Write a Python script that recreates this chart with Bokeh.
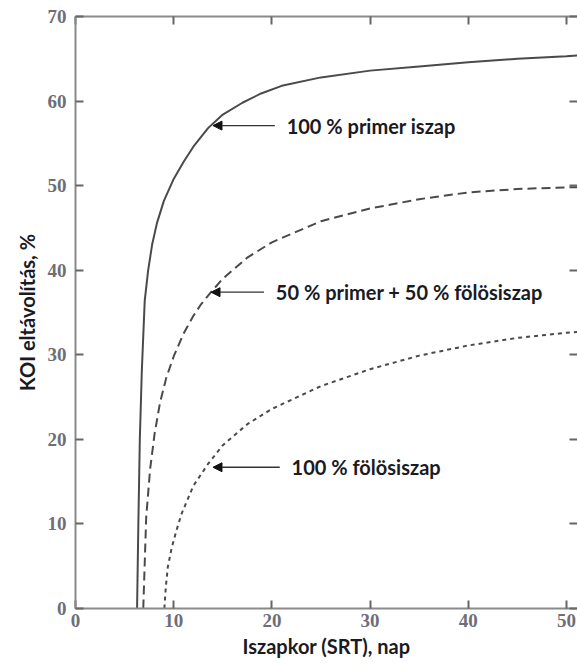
from bokeh.plotting import figure
from bokeh.models import LinearAxis, FixedTicker, Arrow, NormalHead, Label, Range1d
from bokeh.embed import file_html
from bokeh.resources import INLINE

# Data
srt_primer = [6.27, 6.4, 6.55, 6.75, 7.05, 7.4, 7.8, 8.3, 9.0, 10, 11, 12, 13.5, 15, 17, 18.9, 21, 25, 30, 35, 40, 45, 50, 51.2]
koi_primer = [0, 10, 20, 28, 36.4, 40, 43, 45.6, 48.2, 50.8, 52.8, 54.6, 56.8, 58.4, 59.8, 60.9, 61.8, 62.8, 63.6, 64.1, 64.6, 65.0, 65.3, 65.4]

srt_mix = [6.9, 7.2, 7.6, 8.06, 8.6, 9.25, 10, 11, 12, 12.8, 13.8, 15, 17.5, 20, 25, 30, 35, 40, 45, 50, 51.2]
koi_mix = [0, 10.8, 16.5, 20.7, 24.3, 27.3, 29.8, 32.5, 34.6, 36.0, 37.4, 39.0, 41.5, 43.3, 45.8, 47.3, 48.4, 49.2, 49.6, 49.8, 49.8]

srt_excess = [9.05, 9.2, 9.4, 9.8, 10.3, 10.8, 12, 13.5, 15, 17.5, 20, 25, 30, 35, 40, 45, 50, 51.2]
koi_excess = [0, 2.6, 4.9, 7.2, 9.3, 11.2, 14.5, 17.1, 19.3, 21.8, 23.6, 26.3, 28.3, 29.9, 31.1, 32.0, 32.6, 32.7]

x_ticks = [0, 10, 20, 30, 40, 50]
y_ticks = [0, 10, 20, 30, 40, 50, 60, 70]

labels = ["100 % primer iszap", "50 % primer + 50 % fölösiszap", "100 % fölösiszap"]
arrow_tip_x = [14.0, 13.8, 14.0]
arrow_tip_y = [57.1, 37.4, 16.7]
label_x = [21.5, 20.4, 22.0]

p = figure(width=577, height=666, output_backend="svg", toolbar_location=None,
           x_range=Range1d(0, 51.12), y_range=Range1d(0, 70),
           min_border_left=75, min_border_right=0, min_border_top=16, min_border_bottom=58)
p.outline_line_color = None
p.grid.visible = False
p.background_fill_color = "white"
p.border_fill_color = "white"

tick_font = "Liberation Serif"
for ax in [p.xaxis[0], p.yaxis[0]]:
    ax.axis_line_color = "#8a8a8a"
    ax.axis_line_width = 2
    ax.major_tick_in = 8
    ax.major_tick_out = 0
    ax.minor_tick_line_color = None
    ax.major_tick_line_color = "#666666"
    ax.major_tick_line_width = 2
    ax.major_label_text_font = tick_font
    ax.major_label_text_font_size = "19px"
    ax.major_label_text_font_style = "bold"
    ax.major_label_text_color = "#6e6e78"
    ax.axis_label_text_font = "Lato"
    ax.axis_label_text_font_style = "bold"
    ax.axis_label_text_font_size = "20px"
    ax.axis_label_text_color = "#1a1a24"

p.xaxis[0].ticker = FixedTicker(ticks=x_ticks)
p.yaxis[0].ticker = FixedTicker(ticks=y_ticks)
p.xaxis[0].axis_label = "Iszapkor (SRT), nap"
p.yaxis[0].axis_label = "KOI eltávolítás, %"
p.xaxis[0].major_label_standoff = 5
p.yaxis[0].major_label_standoff = 9
p.xaxis[0].axis_label_standoff = 4
p.yaxis[0].axis_label_standoff = 6

top = LinearAxis(ticker=FixedTicker(ticks=x_ticks), major_label_text_font_size="0px",
                 major_label_text_color=None,
                 major_label_standoff=0, major_tick_in=8, major_tick_out=0,
                 minor_tick_line_color=None, axis_line_color="#8a8a8a", axis_line_width=2,
                 major_tick_line_color="#666666", major_tick_line_width=2)
p.add_layout(top, "above")
right = LinearAxis(ticker=FixedTicker(ticks=y_ticks), major_label_text_font_size="0px",
                   major_label_text_color=None,
                   major_label_standoff=0, major_tick_in=8, major_tick_out=0,
                   minor_tick_line_color=None, axis_line_color=None,
                   major_tick_line_color="#666666", major_tick_line_width=2)
p.add_layout(right, "right")

p.line(srt_primer, koi_primer, line_color="#4a4a4a", line_width=2)
p.line(srt_mix, koi_mix, line_color="#4a4a4a", line_width=2, line_dash="9 5")
p.line(srt_excess, koi_excess, line_color="#4a4a4a", line_width=2, line_dash="4 4")

for lab, tx, ty, lx in zip(labels, arrow_tip_x, arrow_tip_y, label_x):
    p.add_layout(Arrow(end=NormalHead(size=9, fill_color="#111111", line_color="#111111"),
                       x_start=lx - 1.2, y_start=ty, x_end=tx, y_end=ty,
                       line_color="#333333", line_width=1.3))
    p.add_layout(Label(x=lx, y=ty, text=lab, text_font="Lato", text_font_style="bold",
                       text_font_size="20px", text_baseline="middle", text_color="#1a1a24"))

open("out.html", "w").write(file_html(p, INLINE))
